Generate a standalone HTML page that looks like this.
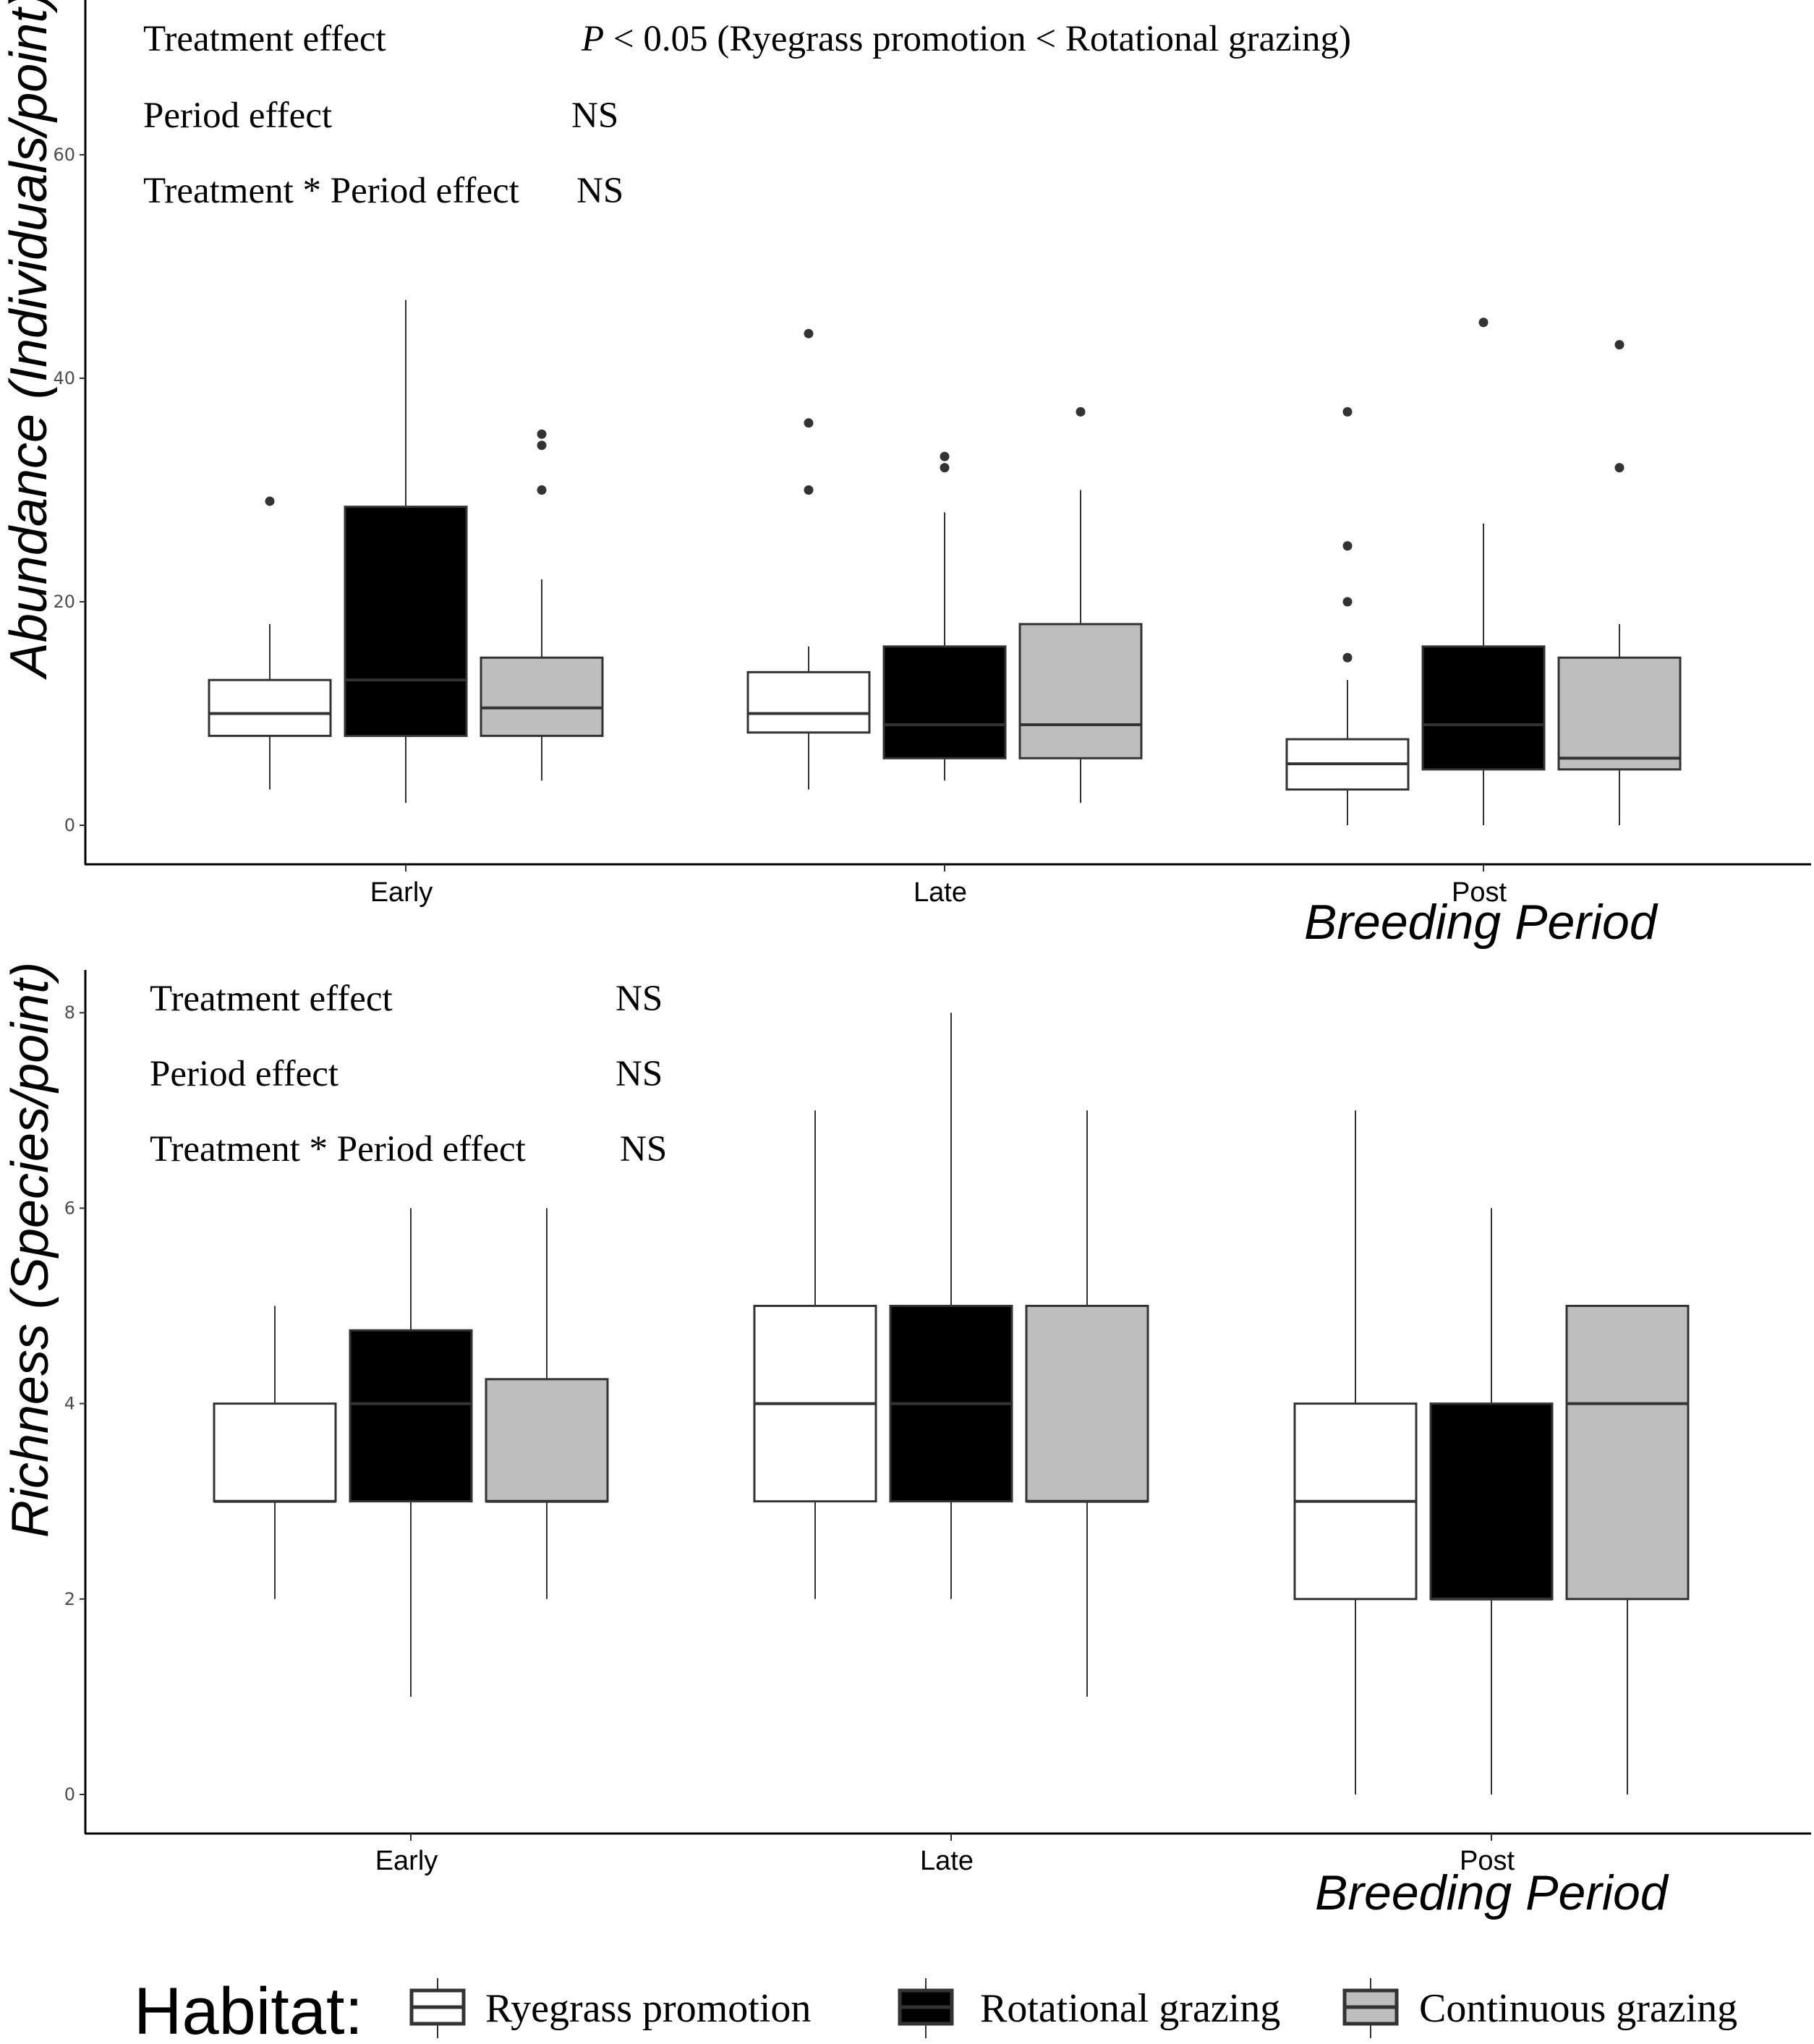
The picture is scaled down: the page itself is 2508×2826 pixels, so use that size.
<!DOCTYPE html>
<html><head><meta charset="utf-8"><style>
body{margin:0;background:#fff}
svg text{font-family:"Liberation Serif",serif}
</style></head><body>
<svg id="chart" width="2508" height="2821" xmlns="http://www.w3.org/2000/svg">
<g id="topPanel"></g>
<g id="botPanel"></g>
<g>
 <text x="185" y="2812" font-size="92" style="font-family:'Liberation Sans',sans-serif">Habitat:</text>
 <g>
  <line x1="605" y1="2735" x2="605" y2="2818" stroke="#333" stroke-width="2"/>
  <rect x="569" y="2752" width="72" height="46" fill="#fff" stroke="#333" stroke-width="5"/>
  <line x1="569" y1="2775" x2="641" y2="2775" stroke="#333" stroke-width="5"/>
  <text x="671" y="2795" font-size="56">Ryegrass promotion</text></g>
 <g>
  <line x1="1280" y1="2735" x2="1280" y2="2818" stroke="#333" stroke-width="2"/>
  <rect x="1244" y="2752" width="72" height="46" fill="#000" stroke="#333" stroke-width="5"/>
  <line x1="1244" y1="2775" x2="1316" y2="2775" stroke="#333" stroke-width="5"/>
  <text x="1355" y="2795" font-size="56">Rotational grazing</text></g>
 <g>
  <line x1="1895" y1="2735" x2="1895" y2="2818" stroke="#333" stroke-width="2"/>
  <rect x="1859" y="2752" width="72" height="46" fill="#bebebe" stroke="#333" stroke-width="5"/>
  <line x1="1859" y1="2775" x2="1931" y2="2775" stroke="#333" stroke-width="5"/>
  <text x="1962" y="2795" font-size="56">Continuous grazing</text></g>
</g>
</svg>
<script>
const categories=["Early","Late","Post"];
const habitats=["Ryegrass promotion","Rotational grazing","Continuous grazing"];
const fills=["#fff","#000","#bebebe"];
const abundStats=[
 [[3.2,8,10,13,18],[2,8,13,28.5,47],[4,8,10.5,15,22]],
 [[3.2,8.3,10,13.7,16],[4,6,9,16,28],[2,6,9,18,30]],
 [[0,3.2,5.5,7.7,13],[0,5,9,16,27],[0,5,6,15,18]]];
const abundOutliers=[
 [[29],[],[30,34,35]],
 [[30,36,44],[32,33],[37]],
 [[15,20,25,37],[45],[32,43]]];
const abundTicks=[0,20,40,60];
const richStats=[
 [[2,3,3,4,5],[1,3,4,4.75,6],[2,3,3,4.25,6]],
 [[2,3,4,5,7],[2,3,4,5,8],[1,3,3,5,7]],
 [[0,2,3,4,7],[0,2,2,4,6],[0,2,4,5,5]]];
const richOutliers=[[[],[],[]],[[],[],[]],[[],[],[]]];
const richTicks=[0,2,4,6,8];

const SVGNS="http://www.w3.org/2000/svg";
function mk(p,t,a){const e=document.createElementNS(SVGNS,t);for(const k in a)e.setAttribute(k,a[k]);p.appendChild(e);return e;}
const dodge=188, bw=168;

function panel(g,stats,outl,ticks,y,xCat,topY,axisY,tickLabY,titlePos,ytitle,ytitleY,ytitleX){
 const ax=mk(g,'line',{x1:118,y1:topY,x2:118,y2:axisY,stroke:'#000','stroke-width':3});
 
 
 const bx=mk(g,'line',{x1:117,y1:axisY,x2:2504,y2:axisY,stroke:'#000','stroke-width':3});
 
 
 ticks.forEach(t=>{
  mk(g,'line',{x1:110,y1:y(t),x2:118,y2:y(t),stroke:'#333','stroke-width':2});
  const tl=mk(g,'text',{x:104,y:y(t)+8,'text-anchor':'end','font-size':24,fill:'#4d4d4d',style:"font-family:'DejaVu Sans',sans-serif"});
  tl.textContent=t;
  
  
 });
 categories.forEach((c,i)=>{
  mk(g,'line',{x1:xCat(i),y1:axisY,x2:xCat(i),y2:axisY+10,stroke:'#333','stroke-width':2});
  const cl=mk(g,'text',{x:xCat(i)-6,y:tickLabY,'text-anchor':'middle','font-size':38,fill:'#000',style:"font-family:'Liberation Sans',sans-serif"});
  cl.textContent=c;
  
  
  stats[i].forEach((s,h)=>{
   const cx=xCat(i)+(h-1)*dodge;
   const bg=mk(g,'g',{});
   
   
   mk(bg,'line',{x1:cx,y1:y(s[0]),x2:cx,y2:y(s[1]),stroke:'#333','stroke-width':2});
   mk(bg,'line',{x1:cx,y1:y(s[3]),x2:cx,y2:y(s[4]),stroke:'#333','stroke-width':2});
   mk(bg,'rect',{x:cx-bw/2,y:y(s[3]),width:bw,height:y(s[1])-y(s[3]),fill:fills[h],stroke:'#333','stroke-width':3});
   mk(bg,'line',{x1:cx-bw/2,y1:y(s[2]),x2:cx+bw/2,y2:y(s[2]),stroke:'#333','stroke-width':4});
   outl[i][h].forEach(o=>{
    const d=mk(bg,'circle',{cx:cx,cy:y(o),r:6.5,fill:'#333'});
    
    
   });
  });
 });
 const xt=mk(g,'text',{x:titlePos[0],y:titlePos[1],'font-size':68,'font-style':'italic',style:"font-family:'Liberation Sans',sans-serif"});
 xt.textContent='Breeding Period';
 
 
 const yt=mk(g,'text',{x:0,y:0,'font-size':72,'font-style':'italic','text-anchor':'middle',transform:`translate(${ytitleX},${ytitleY}) rotate(-90)`,style:"font-family:'Liberation Sans',sans-serif"});
 yt.textContent=ytitle;
 
 
}
function ann(g,rows){
 rows.forEach(r=>{
  const t=mk(g,'text',{x:r[0],y:r[2],'font-size':51});
  t.textContent=r[1];
  
  
 });
}
const topG=document.getElementById('topPanel'), botG=document.getElementById('botPanel');
panel(topG,abundStats,abundOutliers,abundTicks,v=>1141-15.45*v,i=>561+745*i,0,1195,1246,[1803,1298],'Abundance (Individuals/point)',462,64);
panel(botG,richStats,richOutliers,richTicks,v=>2481-135.1*v,i=>568+747*i,1341,2535,2585,[1818,2640],'Richness (Species/point)',1728,66);
ann(topG,[[198,'Treatment effect',70],[198,'Period effect',176],[198,'Treatment * Period effect',280],[790,'NS',176],[797,'NS',280]]);
const p=mk(topG,'text',{x:804,y:70,'font-size':51});
p.innerHTML='<tspan font-style="italic">P</tspan> &lt; 0.05 (Ryegrass promotion &lt; Rotational grazing)';


ann(botG,[[207,'Treatment effect',1397],[207,'Period effect',1501],[207,'Treatment * Period effect',1605],[851,'NS',1397],[851,'NS',1501],[857,'NS',1605]]);
</script>
</body></html>
